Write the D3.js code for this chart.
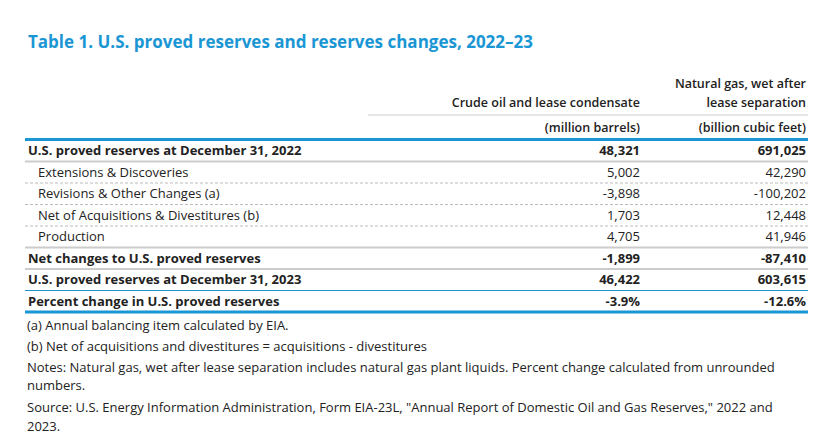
<!DOCTYPE html>
<html><head><meta charset="utf-8">
<script src="https://cdn.jsdelivr.net/npm/d3@7"></script>
<style>body{margin:0;background:#fff}svg{font-family:"Open Sans",sans-serif}</style>
</head><body>
<script>
// table data
const title = "Table 1. U.S. proved reserves and reserves changes, 2022\u201323";
const rowLabels = [
  "U.S. proved reserves at December 31, 2022",
  "Extensions & Discoveries",
  "Revisions & Other Changes (a)",
  "Net of Acquisitions & Divestitures (b)",
  "Production",
  "Net changes to U.S. proved reserves",
  "U.S. proved reserves at December 31, 2023",
  "Percent change in U.S. proved reserves"
];
const rowBold = [true, false, false, false, false, true, true, true];
const crudeOil = ["48,321", "5,002", "-3,898", "1,703", "4,705", "-1,899", "46,422", "-3.9%"];
const naturalGas = ["691,025", "42,290", "-100,202", "12,448", "41,946", "-87,410", "603,615", "-12.6%"];
const rowRules = ["solid", "dash", "dash", "dash", "solid", "solid", "blue", "bluethick"];
const notes = [
  "(a) Annual balancing item calculated by EIA.",
  "(b) Net of acquisitions and divestitures = acquisitions - divestitures",
  "Notes: Natural gas, wet after lease separation includes natural gas plant liquids. Percent change calculated from unrounded",
  "numbers.",
  "Source: U.S. Energy Information Administration, Form EIA-23L, \"Annual Report of Domestic Oil and Gas Reserves,\" 2022 and",
  "2023."
];
const noteY = [325, 346, 367, 385, 407, 426];

const W = 833, H = 442, left = 25, right = 808, colCrude = 640, colGas = 806;
const blue = "#1a96d4", ink = "#222", fs = 13;

const svg = d3.select("body").append("svg").attr("width", W).attr("height", H);

svg.append("text").attr("x", 28).attr("y", 48).attr("fill", blue)
  .attr("font-size", 17).attr("font-weight", 700).text(title);

// headers
const hdr = svg.append("g").attr("font-size", 12.5).attr("font-weight", 600).attr("fill", ink).attr("text-anchor", "end");
hdr.append("text").attr("x", colGas).attr("y", 88).text("Natural gas, wet after");
hdr.append("text").attr("x", colGas).attr("y", 107).text("lease separation");
hdr.append("text").attr("x", colCrude).attr("y", 107).text("Crude oil and lease condensate");
hdr.append("line").attr("x1", 368).attr("x2", right).attr("y1", 115).attr("y2", 115).attr("stroke", "#ccc");
hdr.append("text").attr("x", colCrude).attr("y", 132).text("(million barrels)");
hdr.append("text").attr("x", colGas).attr("y", 132).text("(billion cubic feet)");

svg.append("rect").attr("x", left).attr("y", 138).attr("width", right - left).attr("height", 3).attr("fill", blue);

const y = d3.scaleBand().domain(d3.range(rowLabels.length)).range([140, 312]);

const rows = svg.selectAll("g.row").data(rowLabels).join("g").attr("class", "row")
  .attr("transform", (d, i) => `translate(0,${y(i)})`)
  .attr("font-size", fs).attr("fill", ink);
const bw = y.bandwidth();
rows.append("text").attr("x", (d, i) => rowBold[i] ? 28 : 38).attr("y", bw / 2 + 4.5)
  .attr("font-weight", (d, i) => rowBold[i] ? 700 : 400).text(d => d);
rows.append("text").attr("x", colCrude).attr("y", bw / 2 + 4.5).attr("text-anchor", "end")
  .attr("font-weight", (d, i) => rowBold[i] ? 700 : 400).text((d, i) => crudeOil[i]);
rows.append("text").attr("x", colGas).attr("y", bw / 2 + 4.5).attr("text-anchor", "end")
  .attr("font-weight", (d, i) => rowBold[i] ? 700 : 400).text((d, i) => naturalGas[i]);
rows.append("line").attr("x1", left).attr("x2", right).attr("y1", bw).attr("y2", bw)
  .attr("stroke", (d, i) => rowRules[i].startsWith("blue") ? blue : (rowRules[i] === "dash" ? "#bbb" : "#ccc"))
  .attr("stroke-width", (d, i) => rowRules[i] === "bluethick" ? 3 : (rowRules[i] === "solid" ? 2 : 1))
  .attr("stroke-dasharray", (d, i) => rowRules[i] === "dash" ? "3,2" : null);

svg.selectAll("text.note").data(notes).join("text").attr("class", "note")
  .attr("x", 27).attr("y", (d, i) => noteY[i] + 4.5).attr("font-size", fs).attr("fill", ink).text(d => d);
</script>
</body></html>
